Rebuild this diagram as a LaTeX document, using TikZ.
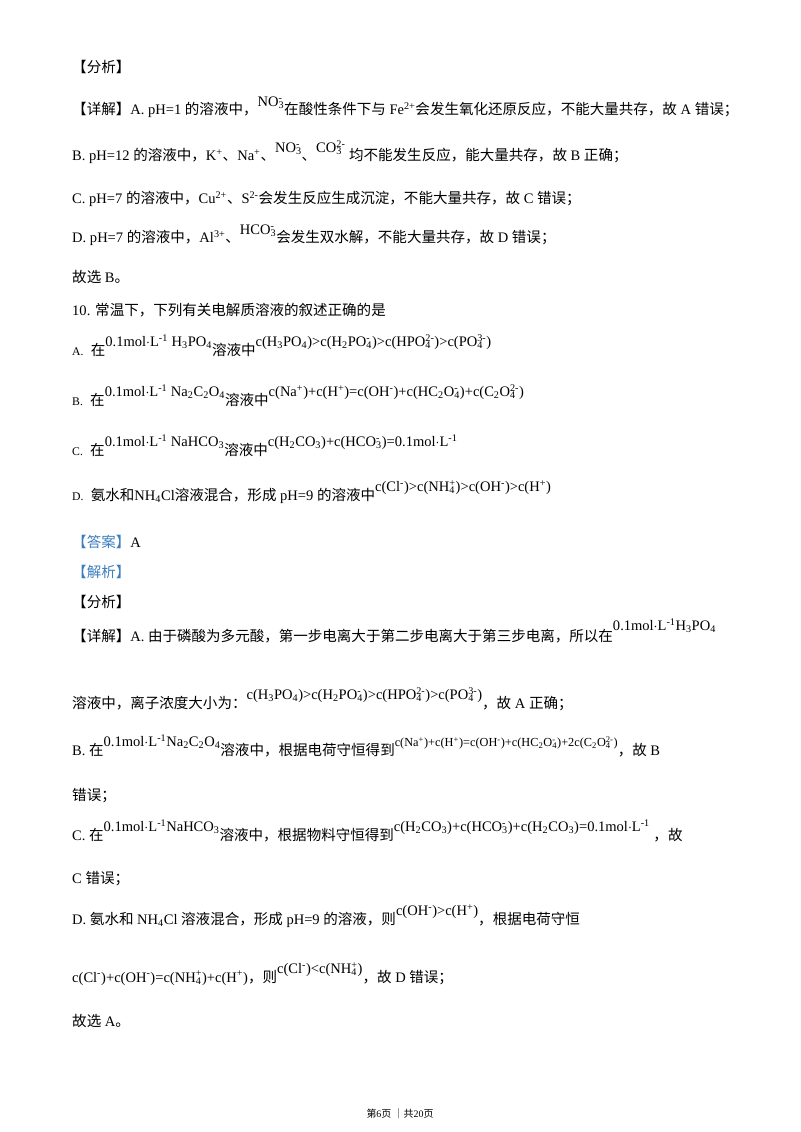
\documentclass[tikz,border=0pt]{standalone}
\usepackage{fontspec}
\setmainfont{Liberation Serif}
\newfontfamily\cjk{Noto Sans CJK SC}
\newcommand\zh[1]{{\cjk #1}}
\newcommand\ionx[2]{\begingroup\setbox0\hbox{\textsuperscript{#2}}\setbox2\hbox{\textsubscript{#1}}\ifdim\wd0>\wd2 \rlap{\box2}\box0\else\rlap{\box0}\box2\fi\endgroup}
\newcommand\up[1]{\raisebox{7pt}{#1}}
\newcommand\opt[1]{{\fontsize{10}{12}\selectfont #1.}\ \ }
\definecolor{ans}{RGB}{60,125,190}
\begin{document}
\begin{tikzpicture}[x=0.03cm,y=-0.03cm,
  ln/.style={anchor=base west,inner sep=0,font=\fontsize{12.4}{14}\selectfont},
  ft/.style={anchor=base,inner sep=0,font=\fontsize{8.5}{10}\selectfont}]
\useasboundingbox (0,0) rectangle (800,1132);
\node[ln] (l1) at (72,73) {\zh{【分析】}};
\node[ln] (l2) at (72,115) {\zh{【详解】}A.\ pH=1 \zh{的溶液中，}\up{NO\ionx{3}{-}}\zh{在酸性条件下与} Fe\textsuperscript{2+}\zh{会发生氧化还原反应，不能大量共存，故} A \zh{错误；}};
\node[ln] (l3) at (72,161) {B.\ pH=12 \zh{的溶液中，}K\textsuperscript{+}\zh{、}Na\textsuperscript{+}\zh{、}\up{NO\ionx{3}{-}}\zh{、}\up{CO\ionx{3}{2-}} \zh{均不能发生反应，能大量共存，故} B \zh{正确；}};
\node[ln] (l4) at (72,204) {C.\ pH=7 \zh{的溶液中，}Cu\textsuperscript{2+}\zh{、}S\textsuperscript{2-}\zh{会发生反应生成沉淀，不能大量共存，故} C \zh{错误；}};
\node[ln] (l5) at (72,243) {D.\ pH=7 \zh{的溶液中，}Al\textsuperscript{3+}\zh{、}\up{HCO\ionx{3}{-}}\zh{会发生双水解，不能大量共存，故} D \zh{错误；}};
\node[ln] (l6) at (72,283) {\zh{故选} B\zh{。}};
\node[ln] (l7) at (72,315) {10. \zh{常温下，下列有关电解质溶液的叙述正确的是}};
\node[ln] (qa) at (72,355) {\opt{A}\zh{在}\up{0.1mol$\cdot$L\textsuperscript{-1}\ H\textsubscript{3}PO\textsubscript{4}}\zh{溶液中}\up{c(H\textsubscript{3}PO\textsubscript{4})>c(H\textsubscript{2}PO\ionx{4}{-})>c(HPO\ionx{4}{2-})>c(PO\ionx{4}{3-})}};
\node[ln] (qb) at (72,405) {\opt{B}\zh{在}\up{0.1mol$\cdot$L\textsuperscript{-1}\ Na\textsubscript{2}C\textsubscript{2}O\textsubscript{4}}\zh{溶液中}\up{c(Na\textsuperscript{+})+c(H\textsuperscript{+})=c(OH\textsuperscript{-})+c(HC\textsubscript{2}O\ionx{4}{-})+c(C\textsubscript{2}O\ionx{4}{2-})}};
\node[ln] (qc) at (72,455) {\opt{C}\zh{在}\up{0.1mol$\cdot$L\textsuperscript{-1}\ NaHCO\textsubscript{3}}\zh{溶液中}\up{c(H\textsubscript{2}CO\textsubscript{3})+c(HCO\ionx{3}{-})=0.1mol$\cdot$L\textsuperscript{-1}}};
\node[ln] (qd) at (72,500) {\opt{D}\zh{氨水和}NH\textsubscript{4}Cl\zh{溶液混合，形成} pH=9 \zh{的溶液中}\up{c(Cl\textsuperscript{-})>c(NH\ionx{4}{+})>c(OH\textsuperscript{-})>c(H\textsuperscript{+})}};
\node[ln] (ans) at (72,547) {\textcolor{ans}{\zh{【答案】}}A};
\node[ln] (jx) at (72,577) {\textcolor{ans}{\zh{【解析】}}};
\node[ln] (fx) at (72,607) {\zh{【分析】}};
\node[ln] (d1) at (72,641) {\zh{【详解】}A.\ \zh{由于磷酸为多元酸，第一步电离大于第二步电离大于第三步电离，所以在}\raisebox{9pt}{0.1mol$\cdot$L\textsuperscript{-1}H\textsubscript{3}PO\textsubscript{4}}};
\node[ln] (d2) at (72,708) {\zh{溶液中，离子浓度大小为：}\up{c(H\textsubscript{3}PO\textsubscript{4})>c(H\textsubscript{2}PO\ionx{4}{-})>c(HPO\ionx{4}{2-})>c(PO\ionx{4}{3-})}\zh{，故} A \zh{正确；}};
\node[ln] (d3) at (72,755) {B.\ \zh{在}\up{0.1mol$\cdot$L\textsuperscript{-1}Na\textsubscript{2}C\textsubscript{2}O\textsubscript{4}}\zh{溶液中，根据电荷守恒得到}\up{\fontsize{10.5}{12}\selectfont c(Na\textsuperscript{+})+c(H\textsuperscript{+})=c(OH\textsuperscript{-})+c(HC\textsubscript{2}O\ionx{4}{-})+2c(C\textsubscript{2}O\ionx{4}{2-})}\zh{，故} B};
\node[ln] (d4) at (72,800) {\zh{错误；}};
\node[ln] (d5) at (72,840) {C.\ \zh{在}\up{0.1mol$\cdot$L\textsuperscript{-1}NaHCO\textsubscript{3}}\zh{溶液中，根据物料守恒得到}\up{c(H\textsubscript{2}CO\textsubscript{3})+c(HCO\ionx{3}{-})+c(H\textsubscript{2}CO\textsubscript{3})=0.1mol$\cdot$L\textsuperscript{-1}}\ \zh{，故}};
\node[ln] (d6) at (72,883) {C \zh{错误；}};
\node[ln] (d7) at (72,924) {D.\ \zh{氨水和} NH\textsubscript{4}Cl \zh{溶液混合，形成} pH=9 \zh{的溶液，则}\up{c(OH\textsuperscript{-})>c(H\textsuperscript{+})}\zh{，根据电荷守恒}};
\node[ln] (d8) at (72,982) {c(Cl\textsuperscript{-})+c(OH\textsuperscript{-})=c(NH\ionx{4}{+})+c(H\textsuperscript{+})\zh{，则}\up{c(Cl\textsuperscript{-})<c(NH\ionx{4}{+})}\zh{，故} D \zh{错误；}};
\node[ln] (d9) at (72,1026) {\zh{故选} A\zh{。}};
\node[ft] (foot) at (400,1117) {\zh{第}6\zh{页\ ｜共}20\zh{页}};
\end{tikzpicture}
\end{document}
